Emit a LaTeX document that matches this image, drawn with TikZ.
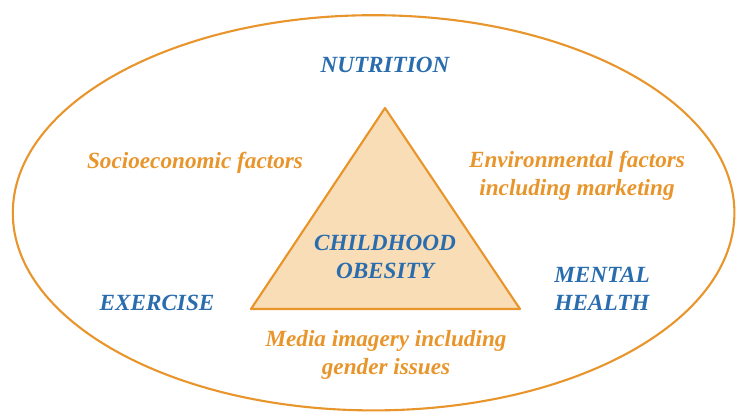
\documentclass[tikz,border=0pt]{standalone}
\usepackage{fontspec, tikz, tkz-euclide}
\setmainfont{Liberation Serif}

\definecolor{obOrange}{HTML}{E8952C}
\definecolor{obFill}{HTML}{F8DDB6}
\definecolor{obBlue}{HTML}{2A6DAE}

\begin{document}
\begin{tikzpicture}[
    factor/.style={font=\bfseries\itshape\fontsize{16.5}{20}\selectfont, align=center, text=obBlue},
    driver/.style={font=\bfseries\itshape\fontsize{16.5}{20}\selectfont, align=center, text=obOrange}]
    \useasboundingbox (0,0) rectangle (18.4,10.3);
    \tkzDefPoints{9.625/7.6/A, 6.275/2.575/B, 13/2.575/C, 9.34/4.98/O}
    \draw[obOrange, line width=1.5pt] (O) ellipse [x radius=9.02, y radius=4.94];
    \tkzDrawPolygon[draw=obOrange, line width=1.5pt, fill=obFill](A,B,C)
    \node[factor] (nutrition) at (9.625,8.68) {NUTRITION};
    \node[factor] (exercise) at (3.925,2.73) {EXERCISE};
    \node[factor] (mental) at (15.05,3.08) {MENTAL\\HEALTH};
    \node[factor] (obesity) at (9.625,3.88) {CHILDHOOD\\OBESITY};
    \node[driver] (socio) at (4.875,6.24) {Socioeconomic factors};
    \node[driver] (environ) at (14.425,5.9) {Environmental factors\\including marketing};
    \node[driver] (media) at (9.65,1.42) {Media imagery including\\gender issues};
\end{tikzpicture}
\end{document}
